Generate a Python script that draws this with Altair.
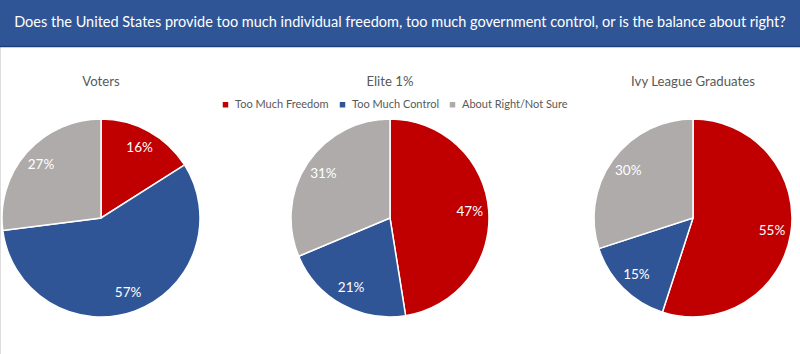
import altair as alt
import pandas as pd

title_text = "Does the United States provide too much individual freedom, too much government control, or is the balance about right?"
groups = ["Voters", "Elite 1%", "Ivy League Graduates"]
categories = ["Too Much Freedom", "Too Much Control", "About Right/Not Sure"]
voters = [16, 57, 27]
elite = [47, 21, 31]
ivy = [55, 15, 30]
colors = ["#C00000", "#2F5597", "#AFABAB"]

FONT = "Lato"
series = [voters, elite, ivy]
rows = []
for g, vals in zip(groups, series):
    for i, (c, v) in enumerate(zip(categories, vals)):
        rows.append({"group": g, "category": c, "value": v, "order": i, "label": f"{v}%"})
df = pd.DataFrame(rows)

centers_x = [101, 390, 693]
cy = 218
R = 99

color_enc = alt.Color(
    "category:N",
    scale=alt.Scale(domain=categories, range=colors),
    sort=categories,
    legend=alt.Legend(
        title=None, orient="none", legendX=220, legendY=99, direction="horizontal",
        symbolType="square", symbolSize=30, symbolStrokeWidth=0,
        labelFontSize=11, labelColor="#595959", labelFont=FONT, labelOffset=4,
        columnPadding=8, padding=0, symbolOffset=0,
    ),
)

pies = []
for g, cx in zip(groups, centers_x):
    base = alt.Chart(df).transform_filter(alt.datum.group == g).encode(
        theta=alt.Theta("value:Q", stack=True),
        order=alt.Order("order:Q"),
    )
    arc = base.mark_arc(outerRadius=R, stroke="white", strokeWidth=1.5).encode(
        color=color_enc, x=alt.value(cx), y=alt.value(cy)
    )
    txt = base.mark_text(radius=80, fontSize=13.5, color="white", font=FONT).encode(
        text="label:N", x=alt.value(cx), y=alt.value(cy)
    )
    ttl = alt.Chart(pd.DataFrame({"t": [g]})).mark_text(
        fontSize=13.2, color="#595959", font=FONT
    ).encode(text="t:N", x=alt.value(cx), y=alt.value(82))
    pies.append(alt.layer(arc, txt, ttl))

tdf = pd.DataFrame({"t": [title_text]})
bar = alt.Chart(tdf).mark_rect(color="#2F5597").encode(
    x=alt.value(0), x2=alt.value(800), y=alt.value(0), y2=alt.value(47)
)
bar_edge = alt.Chart(tdf).mark_rule(color="#1F3F7A", strokeWidth=1.5).encode(
    x=alt.value(0), x2=alt.value(800), y=alt.value(46.5)
)
bar_text = alt.Chart(tdf).mark_text(
    fontSize=14.5, color="white", font=FONT
).encode(text="t:N", x=alt.value(400), y=alt.value(23))

chart = alt.layer(bar, bar_edge, bar_text, *pies).resolve_scale(
    theta="independent"
).properties(
    width=800, height=354, padding=0, autosize=alt.AutoSizeParams(type="none")
).configure_view(stroke=None).configure(background="white")

chart.save("out.html", embed_options={"renderer": "svg", "actions": False})
